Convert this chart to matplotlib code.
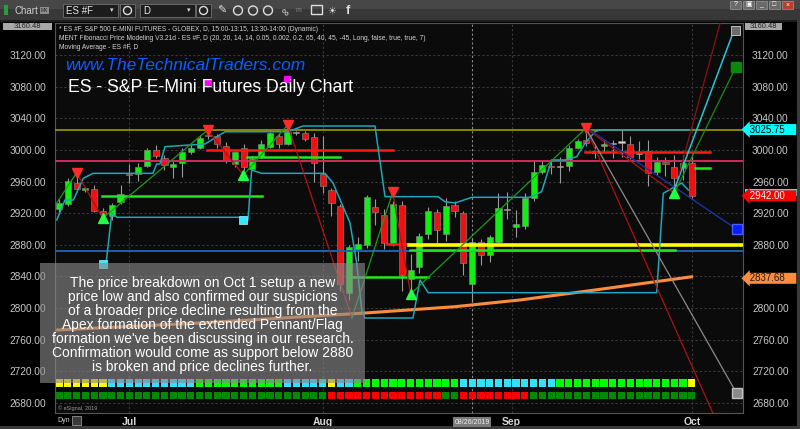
import matplotlib.pyplot as plt
from matplotlib.patches import Rectangle, Circle

plt.rcParams["font.family"] = ["Liberation Sans", "DejaVu Sans"]

W, H = 800, 429

# ---------------------------------------------------------------------------
# Data: ES #F daily bars, 19 Jun - 1 Oct 2019 (bar index 0..72)
# ---------------------------------------------------------------------------
opens = [2925, 2931, 2958, 2949, 2951, 2923, 2916, 2934, 2970, 2970,
         2980, 3000, 2990, 2979, 2983, 2997, 3003, 3019, 3017, 3005,
         2982, 3003, 2976, 2991, 3004, 3018, 3008, 3022, 3021, 3016,
         2970, 2949, 2929, 2819, 2875, 2880, 2928, 2918, 2882, 2930,
         2837, 2852, 2894, 2921, 2894, 2930, 2920, 2831, 2883, 2867,
         2884, 2925, 2902, 2904, 2939, 2972, 2980, 2979, 2980, 3003,
         3012, 2996, 3005, 3008, 3010, 3007, 2996, 2999, 2972, 2985,
         2979, 2977, 2984]
highs = [2938, 2965, 2965, 2953, 2956, 2926, 2933, 2956, 2982, 2983,
         3003, 3006, 2993, 2987, 3003, 3006, 3019, 3021, 3020, 3010,
         2999, 3008, 2992, 3013, 3023, 3022, 3027, 3024, 3024, 3021,
         3017, 2952, 2932, 2880, 2890, 2943, 2938, 2925, 2936, 2935,
         2869, 2895, 2928, 2925, 2939, 2936, 2923, 2887, 2888, 2893,
         2945, 2947, 2924, 2945, 2987, 2987, 2989, 2991, 3006, 3014,
         3022, 3005, 3012, 3013, 3025, 3017, 3011, 3012, 2991, 2991,
         2993, 2994, 2994]
lows = [2921, 2929, 2947, 2947, 2921, 2915, 2912, 2932, 2958, 2961,
        2978, 2990, 2975, 2964, 2966, 2995, 3001, 3014, 3003, 2983,
        2978, 2975, 2974, 2990, 3002, 3002, 3006, 3019, 3011, 2960,
        2945, 2916, 2822, 2810, 2860, 2876, 2905, 2875, 2878, 2822,
        2822, 2845, 2888, 2882, 2885, 2915, 2842, 2808, 2855, 2858,
        2882, 2913, 2890, 2900, 2936, 2970, 2969, 2958, 2973, 3001,
        3005, 2990, 2997, 2990, 2991, 2988, 2988, 2955, 2968, 2967,
        2951, 2962, 2939]
closes = [2933, 2961, 2951, 2952, 2923, 2919, 2930, 2944, 2968, 2979,
          3000, 2992, 2981, 2982, 2997, 3003, 3015, 3017, 3008, 2986,
          2997, 2978, 2988, 3008, 3021, 3008, 3023, 3022, 3014, 2984,
          2954, 2933, 2831, 2877, 2881, 2940, 2921, 2882, 2932, 2842,
          2848, 2891, 2923, 2899, 2929, 2923, 2857, 2884, 2867, 2890,
          2927, 2925, 2906, 2939, 2972, 2981, 2979, 2979, 3002, 3011,
          3009, 2999, 3008, 3008, 3010, 2991, 2996, 2971, 2985, 2982,
          2964, 2984, 2942]

month_pos = [8, 30, 51.5, 72]
month_labels = ["Jul", "Aug", "Sep", "Oct"]
cursor_pos = 47
price_ticks = [2680, 2720, 2760, 2800, 2840, 2880, 2920, 2960, 3000, 3040, 3080, 3120]

# indicator strips under the candles (one state per bar)
strip_top = ("YYYYYY" "CCCCCCCCCC" "GGGGGGGGGG" "CCCCC" "Y" "CC"
             "GGGGGGGGGGGG" "CCCCCCCCCCC" "GGGGGGGGGGGGGGG" "Y")
strip_bottom = ("GGGGGGGGGGGGGGGGGGGGGGGGGGGGGGG" "RRRRRRRRRRRRR" "GG"
                "RRRRRRRR" "GGGGGGGGGGGGGGGGGGG")

# horizontal levels: (start bar, end bar, price)
level_olive = 3025.75
level_pink = 2986.0
level_blue = 2872.6
level_yellow = (39.8, 77.8, 2880.0)
green_levels = [(4.86, 23.06, 2941.7), (21.35, 31.97, 2991.0), (33.2, 42.0, 2839.7),
                (39.9, 70.1, 2873.5), (72.4, 74.1, 2977.1)]
red_levels = [(16.8, 38.0, 3000.0), (37.3, 39.8, 2881.1), (59.8, 74.1, 2997.8)]

# stepped channel lines
upper_bars = [-0.26, 0.68, 1.63, 2.76, 3.87, 10.69, 11.11, 11.49, 12.06, 16.61, 18.89,
              26.05, 27.76, 35.95, 37.09, 43.12, 43.91, 45.05, 46.98, 53.58, 54.91,
              56.05, 57.57, 58.90, 59.84, 60.98, 61.55, 71.79]
upper_vals = [2911.4, 2936.7, 2936.7, 2964.1, 2970.4, 2970.4, 2982.2, 2982.2, 3004.1, 3007.5,
              3023.0, 3023.0, 3030.2, 3030.2, 2940.9, 2940.9, 2934.5, 2932.9, 2940.1, 2940.1,
              2947.2, 2987.3, 2987.3, 2991.4, 3008.4, 3023.0, 3025.2, 3025.2]
lower_bars = [5.35, 6.0, 6.6, 20.97, 20.97, 21.5, 21.92, 23.06, 30.26, 31.17, 33.11, 33.87,
              34.44, 34.81, 40.27, 41.07, 42.01, 68.0, 68.75, 70.84, 71.59]
lower_vals = [2855.8, 2919.9, 2914.8, 2914.8, 2911.4, 2911.4, 2974.6, 2970.4, 2970.4, 2958.2,
              2907.6, 2857.0, 2797.6, 2787.5, 2787.5, 2835.5, 2819.5, 2819.5, 2945.2, 2958.2,
              2949.3]
stop_bars = [5.04, 20.97]
stop_vals = [2855.8, 2911.4]

# swing zigzag and pivots
zigzag_bars = [-0.26, 2.01, 4.97, 16.92, 20.97, 26.02, 33.33, 37.96, 40.01, 59.95, 70.0]
zigzag_vals = [2932.9, 2971.2, 2913.6, 3025.2, 2968.3, 3031.5, 2787.5, 2946.4, 2817.9,
               3027.3, 2945.2]
pivot_high_bars = [2.01, 16.92, 26.02, 37.96, 59.95]
pivot_high_vals = [2971.2, 3025.2, 3031.5, 2946.4, 3027.3]
pivot_low_bars = [4.97, 20.97, 40.01, 70.0]
pivot_low_vals = [2913.6, 2968.3, 2817.9, 2945.2]

# projection lines (start/end bar, start/end price)
proj_red = ([59.95, 74.74], [3027.3, 2658.6])
proj_gray = ([59.95, 77.1], [3027.3, 2692.3])
proj_navy = ([60.4, 77.1], [3025.2, 2899.7])
proj_cyan = ([69.85, 76.68], [2945.5, 3147.8])
proj_green = ([70.0, 77.02], [2945.2, 3105.2])
proj_darkred = ([70.53, 75.31], [2968.3, 3164.2])
magenta_bars = [17.0, 25.97]
magenta_vals = [3084.2, 3089.3]

# moving average
ma_bars = [-0.23, 16.04, 34.81, 45.05, 52.45, 60.98, 72.01]
ma_vals = [2772.3, 2781.2, 2793.8, 2801.8, 2810.3, 2822.9, 2839.7]

# last values shown on the price scale
last_upper = 3025.75
last_close = 2942.00
last_lower = 2946.0
last_ma = 2837.68

note_lines = [
    "The price breakdown on Oct 1 setup a new",
    "price low and also confirmed our suspicions",
    "of a broader price decline resulting from the",
    "Apex formation of the extended Pennant/Flag",
    "formation we've been discussing in our research.",
    "Confirmation would come as support below 2880",
    "is broken and price declines further.",
]

# ---------------------------------------------------------------------------
fig = plt.figure(figsize=(W / 100, H / 100), dpi=100, facecolor="black")


def box(x1, y1, x2, y2, **kw):
    # screen-pixel rectangle (y measured from top)
    r = Rectangle((x1 / 100, (H - y2) / 100), (x2 - x1) / 100, (y2 - y1) / 100,
                  transform=fig.dpi_scale_trans, **kw)
    fig.add_artist(r)
    return r


def ptext(x, y, s, **kw):
    return fig.text(x / W, 1 - y / H, s, **kw)


ax = fig.add_axes([55 / W, 1 - 413 / H, 688 / W, 390 / H], facecolor="#0b0b0b")
ax.set_xlim(-0.455, 77.82)
ax.set_ylim(2667.4, 3160.45)
for s in ax.spines.values():
    s.set_color("#555555")
    s.set_linewidth(0.8)

# grid
for p in price_ticks:
    ax.axhline(p, color="#3a3a3a", lw=0.8, ls=(0, (2, 2)), zorder=0)
for m in month_pos:
    ax.axvline(m, color="#3a3a3a", lw=0.8, ls=(0, (2, 2)), zorder=0)
ax.axvline(cursor_pos, color="#8a8a8a", lw=0.8, ls=(0, (2, 2)), zorder=0)

ax.set_yticks(price_ticks, [f"{p:.2f}" for p in price_ticks])
ax.tick_params(axis="y", left=False, right=False, labelleft=True, labelright=True,
               labelsize=7.3, labelcolor="#c8c8c8", pad=3)
# the moving-average tag covers this one on the right scale
ax.yaxis.get_major_ticks()[price_ticks.index(2840)].label2.set_visible(False)
ax.set_xticks(month_pos, month_labels)
ax.tick_params(axis="x", length=0, labelsize=7.5, labelcolor="#d8d8d8", pad=3)
for lbl in ax.get_xticklabels():
    lbl.set_fontweight("bold")

# indicator strips
cols_top = {"Y": "#ffff00", "C": "#33e0ff", "G": "#00ff00"}
cols_bot = {"G": "#008c00", "R": "#ff0000"}
for i, (a, b) in enumerate(zip(strip_top, strip_bottom)):
    ax.bar(i, 9.3, bottom=2700.7, width=0.82, color=cols_top[a], zorder=2)
    ax.bar(i, 9.6, bottom=2684.7, width=0.82, color=cols_bot[b], zorder=2)

# candles
idx = list(range(len(opens)))
ax.vlines(idx, lows, highs, color="#9a9a9a", lw=0.8, zorder=3)
for i in idx:
    o, c = opens[i], closes[i]
    if c == o:
        col, lo, hgt = "#dcdcdc", o - 0.7, 1.4
    else:
        col = "#11ee11" if c > o else "#ee1111"
        lo, hgt = min(o, c), abs(c - o)
    ax.bar(i, hgt, bottom=lo, width=0.7, color=col, edgecolor="#8a8a8a", lw=0.4, zorder=4)

# levels
ax.axhline(level_olive, color="#9c9c00", lw=1.2, zorder=5)
ax.axhline(level_pink, color="#d02a5c", lw=1.4, zorder=5)
ax.axhline(level_blue, color="#1f62a8", lw=1.4, zorder=5)
for a, b, p in green_levels:
    ax.plot([a, b], [p, p], color="#22e622", lw=1.8, zorder=6)
for a, b, p in red_levels:
    ax.plot([a, b], [p, p], color="#ff1a1a", lw=1.8, zorder=6)
ax.plot(level_yellow[:2], [level_yellow[2]] * 2, color="#ffff00", lw=2.6, zorder=6)

# moving average
ax.plot(ma_bars, ma_vals, color="#ff8c3c", lw=2.2, zorder=5, solid_capstyle="round")

# channels
ax.plot(upper_bars, upper_vals, color="#1fa6b8", lw=1.1, zorder=6)
ax.plot(lower_bars, lower_vals, color="#1fa6b8", lw=1.1, zorder=6)
ax.plot(stop_bars, stop_vals, "s", ms=6, color="#33e8ff", mec="#9ff6ff", mew=0.5, zorder=7)

# zigzag
for k in range(len(zigzag_bars) - 1):
    up = zigzag_vals[k + 1] > zigzag_vals[k]
    ax.plot(zigzag_bars[k:k + 2], zigzag_vals[k:k + 2],
            color="#1c9a1c" if up else "#b01212", lw=0.9, zorder=6)
ax.plot(pivot_high_bars, pivot_high_vals, "v", ms=7, color="#ff2a2a", zorder=7)
ax.plot(pivot_low_bars, pivot_low_vals, "^", ms=7, color="#22ff44", zorder=7)

# projections
ax.plot(*proj_red, color="#b01010", lw=0.9, zorder=6)
ax.plot(*proj_gray, color="#8c8c8c", lw=0.9, zorder=6)
ax.plot(*proj_navy, color="#1a34a0", lw=1.0, zorder=6)
ax.plot(*proj_cyan, color="#26c6d6", lw=1.1, zorder=6)
ax.plot(*proj_green, color="#1a8a1a", lw=0.9, zorder=6)
ax.plot(*proj_darkred, color="#8a1212", lw=0.9, zorder=6)
ax.plot(proj_navy[0][1], proj_navy[1][1], "s", ms=6.5, color="#0a1cff", mec="#4a5cff", zorder=7)
ax.plot(proj_gray[0][1], proj_gray[1][1], "s", ms=6.5, color="#8a8a8a", mec="#c0c0c0", zorder=7)
ax.plot(proj_green[0][1], proj_green[1][1], "s", ms=6.5, color="#0a8a0a", zorder=7)
ax.plot(magenta_bars, magenta_vals, "s", ms=5, color="#ff00ff", zorder=7)

# value tags on the right axis
tag_tr = ax.get_yaxis_transform()
# lower channel tag, mostly hidden behind the close tag
ax.add_patch(Rectangle((1.003, last_lower - 4.5), 0.08, 8.5, transform=tag_tr,
                       fc="#00ffff", ec="none", clip_on=False, zorder=8))
tags = [(last_upper, "#00ffff", "black"),
        (last_close, "#ff0000", "white"),
        (last_ma, "#ff8c3c", "#1a1a1a")]
for v, bg, fg in tags:
    ax.text(1.006, v, f" {v:.2f}    ", transform=tag_tr, ha="left", va="center",
            fontsize=7, color=fg, zorder=9, clip_on=False,
            bbox=dict(boxstyle="larrow,pad=0.05", fc=bg, ec="none"))

# ---------------------------------------------------------------------------
# window chrome
box(0, 0, 800, 9, fc="#474747", ec="none")
box(0, 9, 800, 20, fc="#383838", ec="none")
box(0, 20, 800, 22, fc="#1c1c1c", ec="none")
box(0, 426, 800, 429, fc="#3a3a3a", ec="none")
box(797, 20, 800, 429, fc="#3a3a3a", ec="none")
box(4, 5, 8, 15, fc="#2f9a3f", ec="none")
ptext(14, 11, "Chart", fontsize=7, color="#cfcfcf", va="center")
box(40, 7, 49, 14, fc="#8c8c8c", ec="none")
ptext(44.5, 10.5, "MX", fontsize=3.5, color="#222222", ha="center", va="center")
for x1, x2, s in [(63, 118, "ES #F"), (140, 195, "D")]:
    box(x1, 4, x2, 17, fc="#1c1c1c", ec="#707070", lw=0.6)
    ptext(x1 + 3, 10.5, s, fontsize=7, color="#e6e6e6", va="center")
    ptext(x2 - 6, 10.5, "\u25be", fontsize=5, color="#dddddd", ha="center", va="center")
for x1 in [120, 196]:
    box(x1, 4, x1 + 15, 17, fc="#222222", ec="#707070", lw=0.6)
    fig.add_artist(Circle(((x1 + 7.5) / 100, (H - 10.5) / 100), 0.04,
                          transform=fig.dpi_scale_trans, fc="none", ec="#dddddd", lw=1))
ptext(222, 11, "\u270e", fontsize=8, color="#dddddd", ha="center", va="center")
for cx in [238, 253, 268]:
    fig.add_artist(Circle((cx / 100, (H - 10.5) / 100), 0.045,
                          transform=fig.dpi_scale_trans, fc="none", ec="#dddddd", lw=1))
ptext(285, 11, "\u221e", fontsize=8, color="#dddddd", ha="center", va="center", rotation=-45)
ptext(298, 11, "m", fontsize=5, color="#888888", ha="center", va="center")
box(311, 5, 322, 14, fc="none", ec="#dddddd", lw=1)
ptext(332, 11, "\u2600", fontsize=7, color="#dddddd", ha="center", va="center")
ptext(348, 11, "f", fontsize=9, color="#dddddd", ha="center", va="center", fontweight="bold")
for x1, s, bg in [(730, "?", "#6a6a6a"), (743, "\u25a3", "#6a6a6a"), (756, "_", "#6a6a6a"),
                  (769, "\u25a1", "#6a6a6a"), (782, "\u00d7", "#c0392b")]:
    box(x1, 1, x1 + 11, 9, fc=bg, ec="#9a9a9a", lw=0.5)
    ptext(x1 + 5.5, 5, s, fontsize=5, color="white", ha="center", va="center")

# top value labels
box(3, 23, 52, 30, fc="#a8a8a8", ec="none")
ptext(27, 26.6, "3160.48", fontsize=5.5, color="#222222", ha="center", va="center")
box(745, 23, 782, 29.5, fc="#a8a8a8", ec="none")
ptext(763, 26.4, "3160.48", fontsize=5.5, color="#222222", ha="center", va="center")
box(731, 26, 740, 35, fc="#6c6c6c", ec="#cfcfcf", lw=0.6)

# study header
hdr = ["* ES #F, S&P 500 E-MINI FUTURES - GLOBEX, D, 15:00-13:15, 13:30-14:00 (Dynamic)",
       "MENT Fibonacci Price Modeling V3.21d - ES #F, D (20, 20, 14, 14, 0.05, 0.002, 0.2, "
       "65, 40, 45, -45, Long, false, true, true, 7)",
       "Moving Average - ES #F, D"]
for k, s in enumerate(hdr):
    ptext(59, 29.3 + 9 * k, s, fontsize=4.8, color="#d4d4d4", va="center")

ptext(65, 66, "www.TheTechnicalTraders.com", fontsize=12.5, color="#0f5cff",
      style="italic", va="center")
ptext(68, 87.5, "ES - S&P E-Mini Futures Daily Chart", fontsize=12.7, color="white",
      va="center", zorder=8)

# bottom bar
ptext(57, 420.5, "Dyn", fontsize=5, color="#cfcfcf", va="center")
box(72, 416, 81, 425, fc="#3a3a3a", ec="#aaaaaa", lw=0.5)
ptext(58, 408, "\u00a9 eSignal, 2019", fontsize=4, color="#9a9a9a", va="center")
ptext(472, 422, "08/26/2019", fontsize=5, color="#eeeeee", ha="center", va="center",
      bbox=dict(boxstyle="square,pad=0.25", fc="#7c7c7c", ec="none"))

# commentary box
box(40, 263, 365, 383, fc="#8a8a8a", ec="none", alpha=0.62, zorder=10)
for k, s in enumerate(note_lines):
    ptext(202.5, 286.7 + 14 * k, s, fontsize=10, color="white", ha="center",
          va="baseline", zorder=11)

fig.savefig("out.png", dpi=100, facecolor="black")
